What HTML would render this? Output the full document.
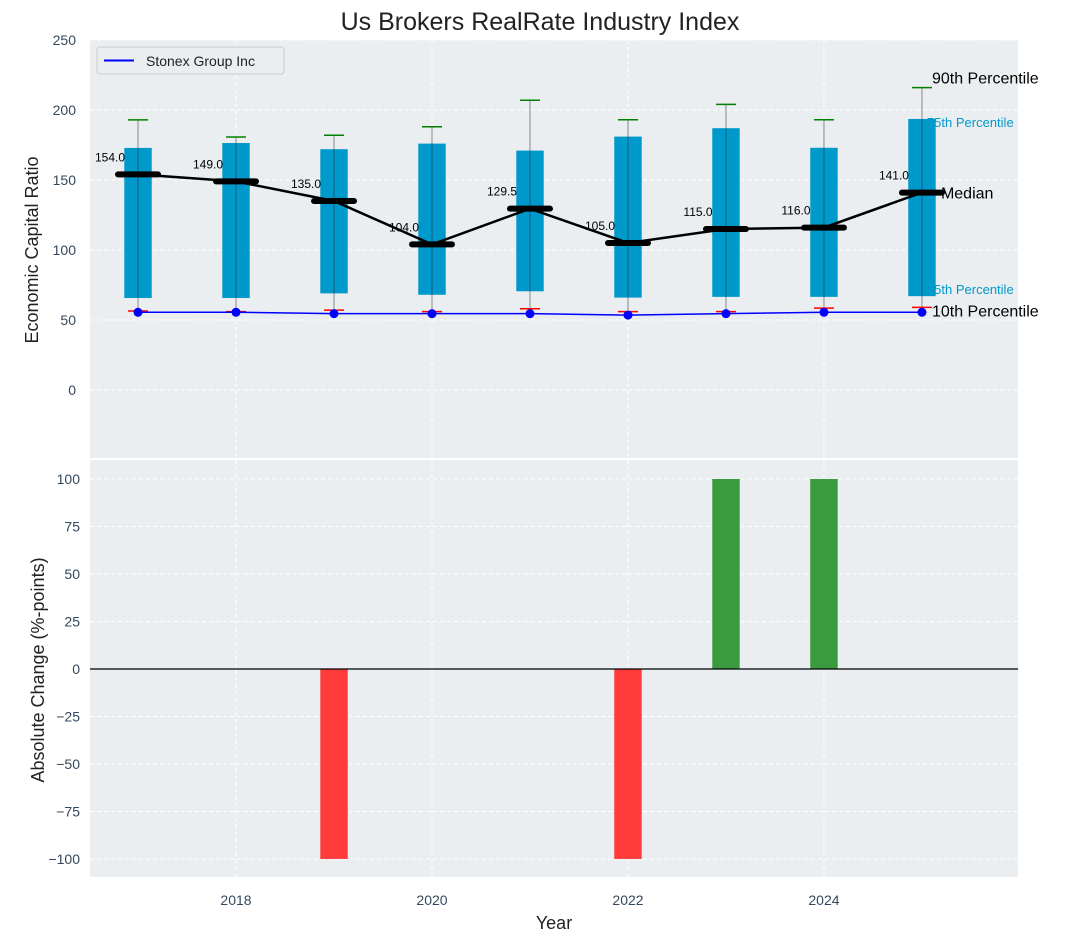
<!DOCTYPE html>
<html><head><meta charset="utf-8"><style>
body{margin:0;background:#fff}
svg{font-family:"Liberation Sans","DejaVu Sans",sans-serif}
.tick{fill:#34495e;font-size:14px}
</style></head><body>
<svg id="c" width="1067" height="942" xmlns="http://www.w3.org/2000/svg"></svg>
<script>
const years=[2017,2018,2019,2020,2021,2022,2023,2024,2025];
const p10=[56.4,56,57,56,58,56,56,58.5,59];
const p25=[65.7,65.7,69,68,70.5,66,66.5,66.5,67];
const medians=[154,149,135,104,129.5,105,115,116,141];
const p75=[172.9,176.4,172,176,171,181,187,173,193.6];
const p90=[192.9,180.7,182,188,207,193,204,193,216];
const company=[55.5,55.5,54.5,54.5,54.5,53.5,54.5,55.5,55.5];
const changes=[0,0,-100,0,0,-100,100,100,0];
const yTicksTop=[0,50,100,150,200,250];
const yTicksBot=[-100,-75,-50,-25,0,25,50,75,100];
const xTicks=[2018,2020,2022,2024];

const NS="http://www.w3.org/2000/svg";
const svg=document.getElementById('c');
function el(t,a,txt){const e=document.createElementNS(NS,t);for(const k in a)e.setAttribute(k,a[k]);if(txt!==undefined)e.textContent=txt;svg.appendChild(e);return e;}
const L=90,R=1018;
const X=v=>L+(v-2016.51)/(2025.98-2016.51)*(R-L);
const T0=40,T1=458,B0=460,B1=877;
const Yt=v=>T0+(250-v)/(250+48.6)*(T1-T0);
const Yb=v=>B0+(110-v)/(110+109.5)*(B1-B0);
const pxYear=X(2018)-X(2017);

let e;
e=el('rect',{x:L,y:T0,width:R-L,height:T1-T0,fill:'#eaeef0'});


e=el('rect',{x:L,y:B0,width:R-L,height:B1-B0,fill:'#eaeef0'});



xTicks.forEach(t=>{
 e=el('line',{x1:X(t),x2:X(t),y1:T0,y2:T1,stroke:'#fff','stroke-dasharray':'4,3'});
 
 e=el('line',{x1:X(t),x2:X(t),y1:B0,y2:B1,stroke:'#fff','stroke-dasharray':'4,3'});
 
 e=el('text',{x:X(t),y:905,'text-anchor':'middle',class:'tick'},t);
 
});
yTicksTop.forEach(t=>{
 e=el('line',{x1:L,x2:R,y1:Yt(t),y2:Yt(t),stroke:'#fff','stroke-dasharray':'4,3'});
 
 e=el('text',{x:76,y:Yt(t)+5,'text-anchor':'end',class:'tick'},t);
 
});
yTicksBot.forEach(t=>{
 e=el('line',{x1:L,x2:R,y1:Yb(t),y2:Yb(t),stroke:'#fff','stroke-dasharray':'4,3'});
 
 e=el('text',{x:80,y:Yb(t)+5,'text-anchor':'end',class:'tick'},t===0?'0':(t<0?'\u2212'+(-t):t));
 
});

const li=years.length-1, lx=X(years[li]);
e=el('text',{x:lx+10,y:Yt(p90[li])-4,'font-size':16,fill:'#000'},'90th Percentile');

e=el('text',{x:lx+5,y:Yt(p75[li])+8,'font-size':13,fill:'#0099cc'},'75th Percentile');

e=el('text',{x:lx+5,y:Yt(p25[li])-2,'font-size':13,fill:'#0099cc'},'25th Percentile');


const bw=pxYear*0.28;
years.forEach((y,i)=>{
 const cx=X(y);
 e=el('line',{x1:cx,x2:cx,y1:Yt(p90[i]),y2:Yt(p10[i]),stroke:'#888','stroke-width':1});
 
 e=el('rect',{x:cx-bw/2,y:Yt(p75[i]),width:bw,height:Yt(p25[i])-Yt(p75[i]),fill:'#0099cc'});
 
 e=el('line',{x1:cx,x2:cx,y1:Yt(p75[i]),y2:Yt(p25[i]),stroke:'#1a5a7a','stroke-width':1});
 
 e=el('line',{x1:cx-10,x2:cx+10,y1:Yt(p90[i]),y2:Yt(p90[i]),stroke:'green','stroke-width':1.5});
 
 e=el('line',{x1:cx-10,x2:cx+10,y1:Yt(p10[i]),y2:Yt(p10[i]),stroke:'red','stroke-width':1.5});
 
});
e=el('polyline',{points:years.map((y,i)=>X(y)+','+Yt(medians[i])).join(' '),fill:'none',stroke:'#000','stroke-width':2.5});

years.forEach((y,i)=>{
 const cx=X(y);
 e=el('line',{x1:cx-20,x2:cx+20,y1:Yt(medians[i]),y2:Yt(medians[i]),stroke:'#000','stroke-width':6,'stroke-linecap':'round'});
 
 e=el('text',{x:cx-28,y:Yt(medians[i])-13,'font-size':12,'text-anchor':'middle',fill:'#000'},medians[i].toFixed(1));
 
});
e=el('text',{x:lx+19,y:Yt(medians[li])+6,'font-size':16,fill:'#000'},'Median');

e=el('text',{x:lx+10,y:Yt(p10[li])+9,'font-size':16,fill:'#000'},'10th Percentile');


e=el('polyline',{points:years.map((y,i)=>X(y)+','+Yt(company[i])).join(' '),fill:'none',stroke:'blue','stroke-width':1.5});

years.forEach((y,i)=>{
 e=el('circle',{cx:X(y),cy:Yt(company[i]),r:4.5,fill:'blue'});
 
});

years.forEach((y,i)=>{
 const v=changes[i]; if(v===0)return;
 const y1=Yb(Math.max(v,0)),y2=Yb(Math.min(v,0));
 e=el('rect',{x:X(y)-bw/2,y:y1,width:bw,height:y2-y1,fill:v>0?'#3a9a3e':'#ff3b3b'});
 
});
e=el('line',{x1:L,x2:R,y1:Yb(0),y2:Yb(0),stroke:'#000','stroke-width':1.2});


e=el('rect',{x:97,y:47,width:187,height:27,rx:3,fill:'#eaeef0',stroke:'#ccc'});

e=el('line',{x1:104,x2:134,y1:60.5,y2:60.5,stroke:'blue','stroke-width':2});

e=el('text',{x:146,y:66,'font-size':14,fill:'#222'},'Stonex Group Inc');


e=el('text',{x:540,y:30,'font-size':25,'text-anchor':'middle',fill:'#222'},'Us Brokers RealRate Industry Index');

e=el('text',{x:0,y:0,'font-size':18,'text-anchor':'middle',fill:'#222',transform:'translate(38,250) rotate(-90)'},'Economic Capital Ratio');

e=el('text',{x:0,y:0,'font-size':18,'text-anchor':'middle',fill:'#222',transform:'translate(44,670) rotate(-90)'},'Absolute Change (%-points)');

e=el('text',{x:554,y:929,'font-size':18,'text-anchor':'middle',fill:'#222'},'Year');

</script>
</body></html>
